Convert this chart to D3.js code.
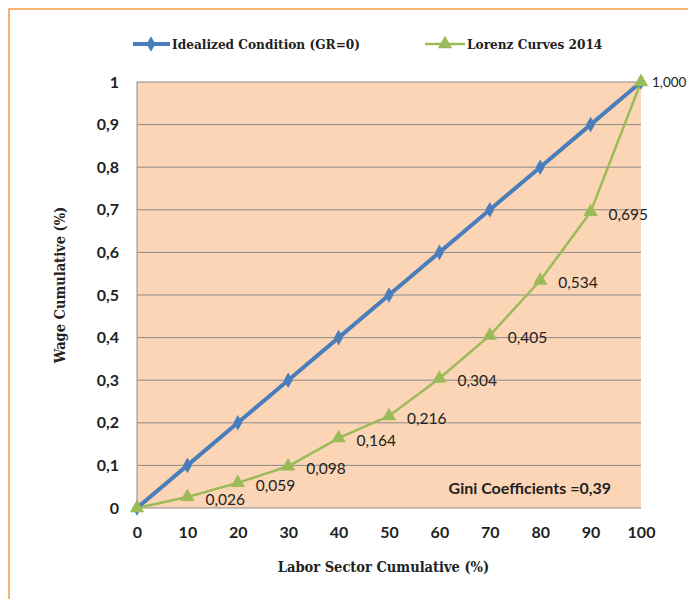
<!DOCTYPE html>
<html><head><meta charset="utf-8">
<script src="https://cdn.jsdelivr.net/npm/d3@7"></script>
<style>body{margin:0;background:#fff}svg{display:block}</style>
</head><body><svg id="c" width="688" height="599"></svg>
<script>
const xValues = [0,10,20,30,40,50,60,70,80,90,100];
const idealized = [0,0.1,0.2,0.3,0.4,0.5,0.6,0.7,0.8,0.9,1.0];
const lorenz = [0,0.026,0.059,0.098,0.164,0.216,0.304,0.405,0.534,0.695,1.000];
const lorenzLabels = ["","0,026","0,059","0,098","0,164","0,216","0,304","0,405","0,534","0,695","1,000"];
const yTicks = [0,0.1,0.2,0.3,0.4,0.5,0.6,0.7,0.8,0.9,1];
const yTickLabels = ["0","0,1","0,2","0,3","0,4","0,5","0,6","0,7","0,8","0,9","1"];
const seriesNames = ["Idealized Condition (GR=0)","Lorenz Curves 2014"];
const giniText = "Gini Coefficients =0,39";

const svg = d3.select("#c");
const L=137,R=641,T=82,B=508;
const x = d3.scaleLinear().domain([0,100]).range([L,R]);
const y = d3.scaleLinear().domain([0,1]).range([B,T]);
const blue="#4a7ebb", green="#9bbb59";
const serif="'DejaVu Serif Condensed','DejaVu Serif',serif";
const sans="Lato,'Open Sans',sans-serif";

svg.append("rect").attr("x",9).attr("y",9).attr("width",700).attr("height",620)
  .attr("fill","none").attr("stroke","#f39a4a").attr("stroke-width",1.5);

svg.append("rect").attr("x",L).attr("y",T).attr("width",R-L).attr("height",B-T).attr("fill","#fbd5b5");

// gridlines
svg.append("g").selectAll("line").data(yTicks).join("line")
  .attr("x1",L).attr("x2",R).attr("y1",d=>y(d)).attr("y2",d=>y(d))
  .attr("stroke","#8a8a8a").attr("stroke-width",1);
svg.append("line").attr("x1",L).attr("x2",L).attr("y1",T).attr("y2",B).attr("stroke","#8a8a8a");

// axes
const yAxis = d3.axisLeft(y).tickValues(yTicks).tickFormat((d,i)=>yTickLabels[i]).tickSize(0).tickPadding(18);
const gy = svg.append("g").attr("transform",`translate(${L},0)`).call(yAxis);
gy.select(".domain").remove();
gy.selectAll("text").attr("font-family",sans).attr("font-weight","bold").attr("font-size",16).attr("fill","#222");

const xAxis = d3.axisBottom(x).tickValues(xValues).tickSize(0).tickPadding(18.5);
const gx = svg.append("g").attr("transform",`translate(0,${B})`).call(xAxis);
gx.select(".domain").remove();
gx.selectAll("text").attr("font-family",sans).attr("font-weight","bold").attr("font-size",16).attr("fill","#222");

// axis titles
svg.append("text").attr("x",383.5).attr("y",572).attr("text-anchor","middle")
  .attr("font-family",serif).attr("font-weight","bold").attr("font-size",14.5).attr("fill","#222")
  .text("Labor Sector Cumulative (%)");
svg.append("text").attr("transform",`translate(65,285) rotate(-90)`).attr("text-anchor","middle")
  .attr("font-family",serif).attr("font-weight","bold").attr("font-size",14.5).attr("fill","#222")
  .text("Wage Cumulative (%)");

// lines
const line = d3.line().x((d,i)=>x(xValues[i])).y(d=>y(d));
svg.append("path").datum(lorenz).attr("d",line).attr("fill","none").attr("stroke",green).attr("stroke-width",2.5);
svg.append("path").datum(idealized).attr("d",line).attr("fill","none").attr("stroke",blue).attr("stroke-width",4);

const diamond = d3.symbol().type(d3.symbolDiamond).size(70);
const tri = d3.symbol().type(d3.symbolTriangle).size(90);
svg.append("g").selectAll("path").data(idealized).join("path")
  .attr("d",diamond).attr("transform",(d,i)=>`translate(${x(xValues[i])},${y(d)})`).attr("fill",blue);
svg.append("g").selectAll("path").data(lorenz).join("path")
  .attr("d",tri).attr("transform",(d,i)=>`translate(${x(xValues[i])},${y(d)})`).attr("fill",green);

// data labels
svg.append("g").selectAll("text").data(lorenz).join("text")
  .attr("x",(d,i)=>x(xValues[i])+ (i===10?11:18)).attr("y",(d,i)=>y(d)+ (i===10?2:4))
  .attr("dominant-baseline","middle")
  .attr("font-family",sans).attr("font-size",(d,i)=>i===10?13.5:15.5).attr("fill","#222")
  .text((d,i)=>lorenzLabels[i]);

svg.append("text").attr("x",611).attr("y",494).attr("text-anchor","end")
  .attr("font-family",sans).attr("font-weight","bold").attr("font-size",16).attr("fill","#222").text(giniText);

// legend
const lg = svg.append("g");
lg.append("line").attr("x1",133).attr("x2",170).attr("y1",44).attr("y2",44).attr("stroke",blue).attr("stroke-width",4);
lg.append("path").attr("d",diamond).attr("transform","translate(151,44)").attr("fill",blue);
lg.append("text").attr("x",172).attr("y",49).attr("font-family",serif).attr("font-weight","bold").attr("font-size",13.5).attr("fill","#222").text(seriesNames[0]);
lg.append("line").attr("x1",425).attr("x2",465).attr("y1",44).attr("y2",44).attr("stroke",green).attr("stroke-width",2.5);
lg.append("path").attr("d",tri).attr("transform","translate(445,44)").attr("fill",green);
lg.append("text").attr("x",467).attr("y",49).attr("font-family",serif).attr("font-weight","bold").attr("font-size",13.5).attr("fill","#222").text(seriesNames[1]);
</script></body></html>
